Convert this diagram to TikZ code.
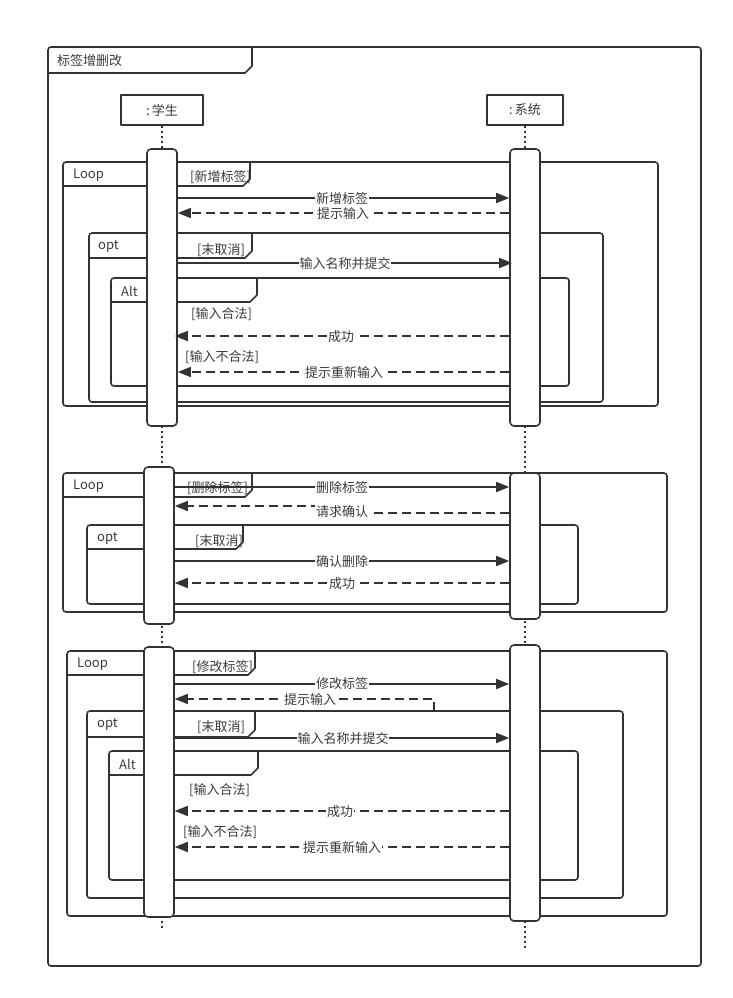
\documentclass[tikz,border=0pt]{standalone}
\usepackage{fontspec}
\setmainfont{Noto Sans CJK SC}
\usetikzlibrary{arrows.meta,calc}
\definecolor{ink}{HTML}{333333}
\definecolor{txt}{HTML}{3A3A3A}
\newcommand\myfs{\fontsize{13}{15}\selectfont}
\newcommand\umlframe[6]{%
  \draw[frame] (#1,#2) rectangle (#3,#4);
  \draw[lw] (#1,#6) -- ({#5-7},#6) -- (#5,{#6-7}) -- (#5,#2);
}
\begin{document}
\begin{tikzpicture}[x=1pt,y=-1pt,line join=round,
  lw/.style={line width=1.6pt,draw=ink},
  frame/.style={lw,rounded corners=3pt},
  head/.style={draw=ink,line width=1.6pt,fill=white,minimum width=#1,minimum height=30pt,inner sep=0,text=txt,font=\myfs},
  bar/.style={draw=ink,line width=1.6pt,fill=white,rounded corners=4pt,minimum width=30pt,minimum height=#1,inner sep=0},
  life/.style={draw=ink,line width=2pt,dash pattern=on 2pt off 3pt},
  msg/.style={draw=ink,line width=1.6pt,-{Triangle[length=13pt,width=10pt]}},
  ret/.style={msg,dash pattern=on 9pt off 5pt},
  mlab/.style={fill=white,inner sep=0.6pt,text=txt,font=\myfs},
  guard/.style={anchor=west,inner sep=0,text=txt,font=\myfs},
  flab/.style={anchor=west,inner sep=0,text=txt,font=\myfs}]
\useasboundingbox (0,0) rectangle (733,998);

% outer frame
\draw[frame] (48,47) rectangle (701,966);
\draw[lw] (48,73) -- (245,73) -- (252,66) -- (252,47);
\node[flab] (title) at (57,61) {标签增删改};

% lifeline heads
\node[head=82pt] (hs) at (162,110) {:\,学生};
\node[head=76pt] (hy) at (525,110) {:\,系统};
\coordinate (ends) at (162,930);
\coordinate (endy) at (525,950);
\draw[life] (hs.south) -- (ends);
\draw[life] (hy.south) -- (endy);

% ---------- section 1 frames ----------
\umlframe{63}{162}{658}{406}{250}{186}
\node[flab] (loop1) at (73,175) {Loop};
\umlframe{89}{233}{603}{402}{252}{258}
\node[flab] (opt1) at (98,246) {opt};
\umlframe{111}{278}{569}{386}{257}{302}
\node[flab] (alt1) at (121,291) {Alt};

% ---------- section 2 frames ----------
\umlframe{63}{473}{667}{612}{252}{497}
\node[flab] (loop2) at (73,486) {Loop};
\umlframe{87}{525}{578}{604}{243}{549}
\node[flab] (opt2) at (97,538) {opt};

% ---------- section 3 frames ----------
\umlframe{67}{651}{667}{916}{255}{675}
\node[flab] (loop3) at (77,664) {Loop};
\umlframe{87}{711}{623}{898}{255}{737}
\node[flab] (opt3) at (97,724) {opt};
\umlframe{109}{751}{578}{880}{258}{775}
\node[flab] (alt3) at (119,764) {Alt};

% activation bars
\node[bar=277pt] (a1) at (162,287.5) {};
\node[bar=277pt] (b1) at (525,287.5) {};
\node[bar=157pt] (a2) at (159,545.5) {};
\node[bar=146pt] (b2) at (525,546) {};
\node[bar=270pt] (a3) at (159,782) {};
\node[bar=276pt] (b3) at (525,783) {};

% guards
\node[guard] (g11) at (190,177) {[新增标签]};
\node[guard] (g12) at (197,250) {[末取消]};
\node[guard] (g13) at (191,314) {[输入合法]};
\node[guard] (g14) at (185,357) {[输入不合法]};
\node[guard] (g21) at (187,488) {[删除标签]};
\node[guard] (g22) at (195,541) {[末取消]};
\node[guard] (g31) at (192,667) {[修改标签]};
\node[guard] (g32) at (197,727) {[末取消]};
\node[guard] (g33) at (189,790) {[输入合法]};
\node[guard] (g34) at (183,832) {[输入不合法]};

% ---------- section 1 messages ----------
\draw[msg] (a1.east |- 0,198) -- (b1.west |- 0,198);
\node[mlab] (m11) at (342,199) {新增标签};
\draw[ret] (b1.west |- 0,213) -- (a1.east |- 0,213);
\node[mlab] (m12) at (343,214) {提示输入};
\draw[msg] (a1.east |- 0,263) -- ([xshift=3pt]b1.west |- 0,263);
\node[mlab] (m13) at (345,264) {输入名称并提交};
\draw[ret] (b1.west |- 0,336) -- ([xshift=-3pt]a1.east |- 0,336);
\node[mlab] (m14) at (341,337) {成功};
\draw[ret] (b1.west |- 0,372) -- (a1.east |- 0,372);
\node[mlab] (m15) at (344,373) {提示重新输入};

% ---------- section 2 messages ----------
\draw[msg] (a2.east |- 0,487) -- (b2.west |- 0,487);
\node[mlab] (m21) at (342,488) {删除标签};
\draw[ret] (b2.west |- 0,513) -- (342,513) -- (342,506) -- (a2.east |- 0,506);
\node[mlab] (m22) at (342,512) {请求确认};
\draw[msg] (a2.east |- 0,561) -- (b2.west |- 0,561);
\node[mlab] (m23) at (342,562) {确认删除};
\draw[ret] (b2.west |- 0,583) -- (a2.east |- 0,583);
\node[mlab] (m24) at (342,584) {成功};

% ---------- section 3 messages ----------
\draw[msg] (a3.east |- 0,684) -- (b3.west |- 0,684);
\node[mlab] (m31) at (342,684) {修改标签};
\coordinate (k31) at (434,711);
\draw[ret] (k31) -- (434,699) -- (a3.east |- 0,699);
\node[mlab] (m32) at (310,700) {提示输入};
\draw[msg] (a3.east |- 0,738) -- (b3.west |- 0,738);
\node[mlab] (m33) at (343,739) {输入名称并提交};
\draw[ret] (b3.west |- 0,811) -- (a3.east |- 0,811);
\node[mlab] (m34) at (340,812) {成功};
\draw[ret] (b3.west |- 0,847) -- (a3.east |- 0,847);
\node[mlab] (m35) at (342,848) {提示重新输入};
\end{tikzpicture}
\end{document}
